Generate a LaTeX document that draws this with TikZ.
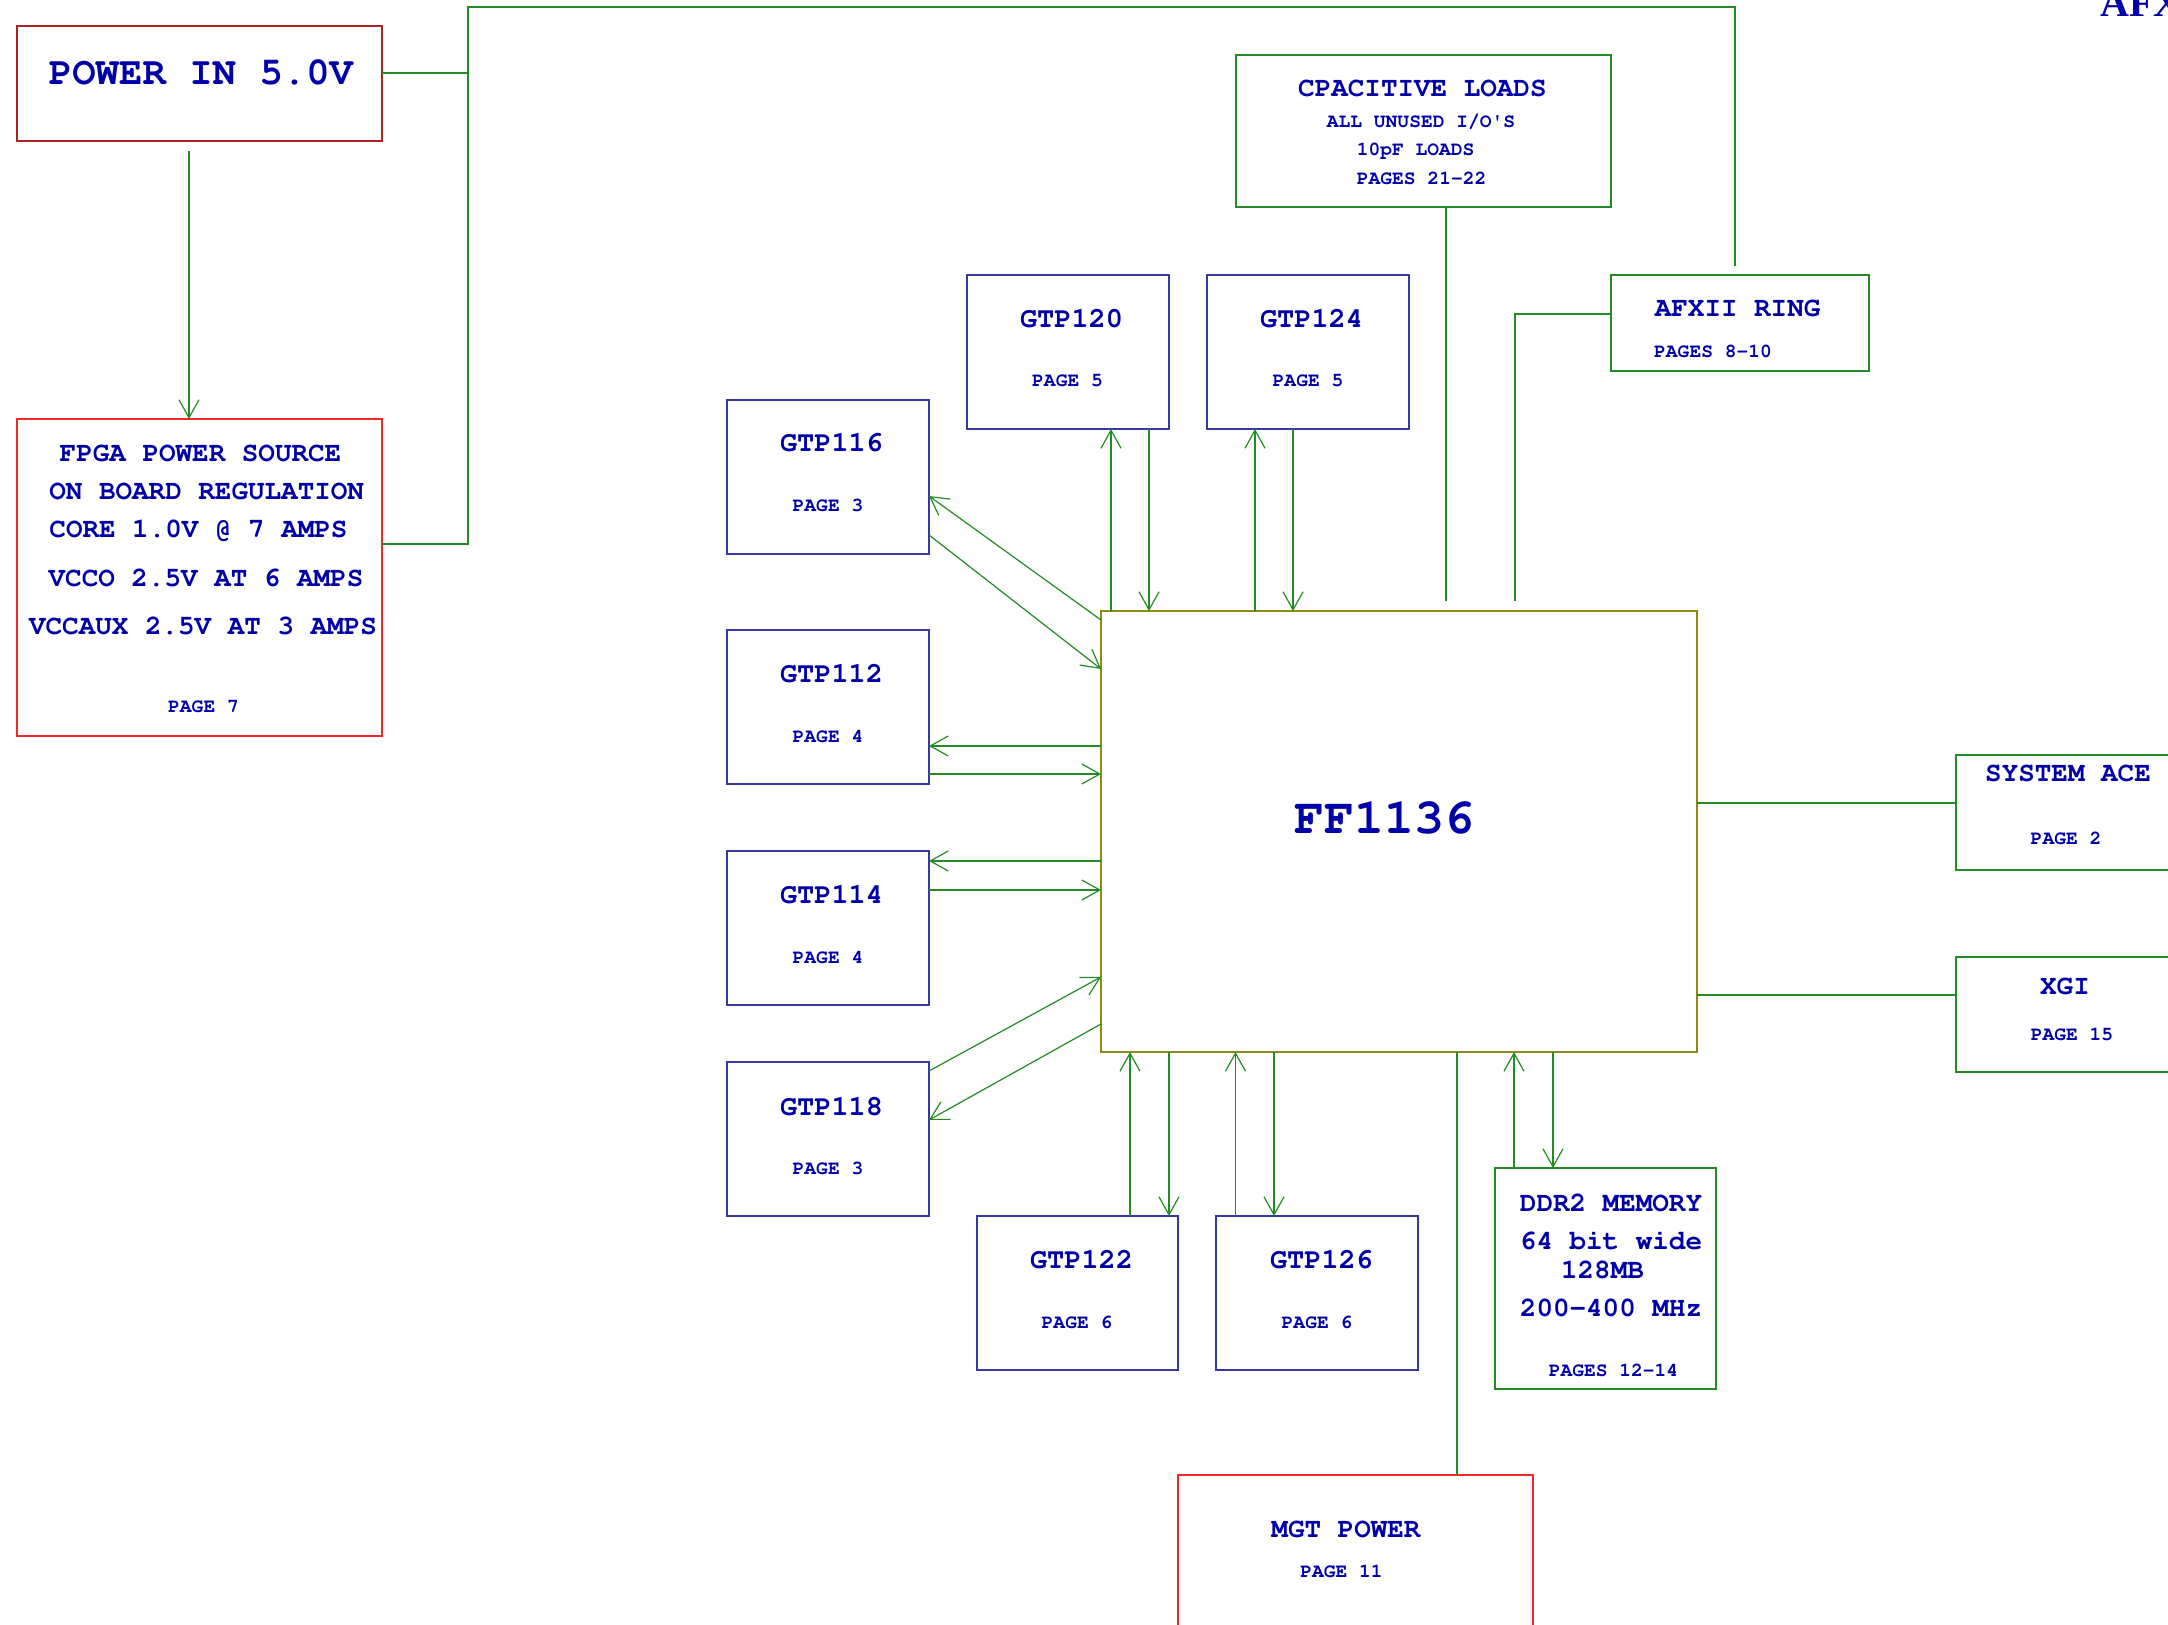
\documentclass[tikz,border=0pt]{standalone}
\usepackage[T1]{fontenc}
\usepackage{fontspec}
\newfontfamily\tnr{Liberation Serif}
\newcommand\cour{\fontencoding{T1}\fontfamily{pcr}\bfseries\selectfont}
\usetikzlibrary{arrows.meta,calc}
\definecolor{tblue}{RGB}{0,0,168}
\definecolor{gtpb}{RGB}{55,55,165}
\definecolor{lgreen}{RGB}{34,140,34}
\definecolor{olivef}{RGB}{140,140,20}
\definecolor{lred}{RGB}{240,40,40}
\definecolor{dred}{RGB}{175,35,35}
\tikzset{
  box/.style={draw, line width=0.7pt, rectangle, inner sep=0pt, outer sep=0pt, anchor=north west},
  gtpbox/.style={box, draw=gtpb},
  grnbox/.style={box, draw=lgreen},
  redbox/.style={box, draw=lred},
  dredbox/.style={box, draw=dred},
  ffbox/.style={box, draw=olivef},
  conn/.style={draw=lgreen, line width=0.6pt},
  arr/.style={conn, -{Straight Barb[length=9pt,width=10pt,line width=0.6pt]}},
  lbl/.style={text=tblue, inner sep=0pt, anchor=base},
  big/.style={lbl, font=\cour\fontsize{19.5}{20}\selectfont},
  ttl/.style={lbl, font=\cour\fontsize{13.8}{14}\selectfont},
  gttl/.style={lbl, font=\cour\fontsize{14.3}{15}\selectfont},
  sml/.style={lbl, font=\cour\fontsize{9.8}{10}\selectfont},
  huge/.style={lbl, font=\cour\fontsize{25}{26}\selectfont},
}
\newcommand\mybox[6]{\node[#6, minimum width={(#4-#2)*0.5pt}, minimum height={(#5-#3)*0.5pt}] (#1) at (#2,#3) {};}
\begin{document}
\begin{tikzpicture}[x=0.5pt,y=-0.5pt]
\useasboundingbox (0,0) rectangle (2168,1625);
\clip (0,0) rectangle (2168,1625);
\fill[white] (0,0) rectangle (2168,1625);

% boxes
\mybox{pin}{17}{26}{382}{141}{dredbox}
\mybox{fpga}{17}{419}{382}{736}{redbox}
\mybox{cap}{1236}{55}{1611}{207}{grnbox}
\mybox{afx}{1611}{275}{1869}{371}{grnbox}
\mybox{g120}{967}{275}{1169}{429}{gtpbox}
\mybox{g124}{1207}{275}{1409}{429}{gtpbox}
\mybox{g116}{727}{400}{929}{554}{gtpbox}
\mybox{g112}{727}{630}{929}{784}{gtpbox}
\mybox{g114}{727}{851}{929}{1005}{gtpbox}
\mybox{g118}{727}{1062}{929}{1216}{gtpbox}
\mybox{g122}{977}{1216}{1178}{1370}{gtpbox}
\mybox{g126}{1216}{1216}{1418}{1370}{gtpbox}
\mybox{ff}{1101}{611}{1697}{1052}{ffbox}
\mybox{sys}{1956}{755}{2220}{870}{grnbox}
\mybox{xgi}{1956}{957}{2220}{1072}{grnbox}
\mybox{ddr}{1495}{1168}{1716}{1389}{grnbox}
\mybox{mgt}{1178}{1475}{1533}{1700}{redbox}

% texts
\node[big] (tpin) at (201,85) {POWER IN 5.0V};
\node[ttl] (tf1) at (200.5,462) {FPGA POWER SOURCE};
\node[ttl] (tf2) at (206.7,500) {ON BOARD REGULATION};
\node[ttl] (tf3) at (198.5,538) {CORE 1.0V @ 7 AMPS};
\node[ttl] (tf4) at (206,587) {VCCO 2.5V AT 6 AMPS};
\node[ttl] (tf5) at (203,635) {VCCAUX 2.5V AT 3 AMPS};
\node[sml] (tf6) at (203.5,713) {PAGE 7};

\node[ttl] (tc1) at (1422.4,97) {CPACITIVE LOADS};
\node[sml] (tc2) at (1421,128) {ALL UNUSED I/O\textquotesingle S};
\node[sml] (tc3) at (1415.6,156) {10pF LOADS};
\node[sml] (tc4) at (1421.6,185) {PAGES 21-22};

\node[ttl] (ta1) at (1737.6,317) {AFXII RING};
\node[sml] (ta2) at (1713,358) {PAGES 8-10};

\node[gttl] (t120) at (1071.5,328) {GTP120};
\node[sml] (p120) at (1067.5,387) {PAGE 5};
\node[gttl] (t124) at (1311.5,328) {GTP124};
\node[sml] (p124) at (1308,387) {PAGE 5};
\node[gttl] (t116) at (831.5,452) {GTP116};
\node[sml] (p116) at (828,512) {PAGE 3};
\node[gttl] (t112) at (831.5,683) {GTP112};
\node[sml] (p112) at (828,743) {PAGE 4};
\node[gttl] (t114) at (831.5,903) {GTP114};
\node[sml] (p114) at (828,963) {PAGE 4};
\node[gttl] (t118) at (831.5,1115) {GTP118};
\node[sml] (p118) at (828,1174) {PAGE 3};
\node[gttl] (t122) at (1081.5,1268) {GTP122};
\node[sml] (p122) at (1077,1328) {PAGE 6};
\node[gttl] (t126) at (1321.5,1268) {GTP126};
\node[sml] (p126) at (1317,1328) {PAGE 6};

\node[huge] (tff) at (1384,834) {FF1136};

\node[ttl] (ts1) at (2068,782) {SYSTEM ACE};
\node[sml] (ts2) at (2066,844) {PAGE 2};
\node[ttl] (tx1) at (2065,994) {XGI};
\node[sml] (tx2) at (2072,1040) {PAGE 15};

\node[ttl] (td1) at (1611,1211) {DDR2 MEMORY};
\node[ttl] (td2) at (1611,1249) {64 bit wide};
\node[ttl] (td3) at (1602.5,1278) {128MB};
\node[ttl] (td4) at (1611,1316) {200-400 MHz};
\node[sml] (td5) at (1613.5,1376) {PAGES 12-14};

\node[ttl] (tm1) at (1346,1537) {MGT POWER};
\node[sml] (tm2) at (1341.5,1577) {PAGE 11};

\node[text=tblue, inner sep=0pt, anchor=base west, font=\tnr\bfseries\fontsize{20}{20}\selectfont] (tafx) at (2100,17) {AFX};

% connectors
\coordinate (pstart) at (189,151);
\draw[arr] (pstart) -- ($(fpga.north west)+(172,0)$);
\coordinate (jp) at (468,73);
\draw[conn] ($(pin.north east)+(0,47)$) -- (jp);
\coordinate (jt) at (468,7);
\coordinate (jr) at (1735,266);
\draw[conn] ($(fpga.north east)+(0,125)$) -| (jt) -| (jr);
\coordinate (capend) at (1446,601);
\draw[conn] ($(cap.south west)+(210,0)$) -- (capend);
\coordinate (afxend) at (1515,601);
\draw[conn] ($(afx.north west)+(0,39)$) -| (afxend);

\draw[arr] ($(ff.north west)+(10,0)$) -- ($(g120.south west)+(144,0)$);
\draw[arr] ($(g120.south west)+(182,0)$) -- ($(ff.north west)+(48,0)$);
\draw[arr] ($(ff.north west)+(154,0)$) -- ($(g124.south west)+(48,0)$);
\draw[arr] ($(g124.south west)+(86,0)$) -- ($(ff.north west)+(192,0)$);

\draw[arr] ($(ff.north west)+(0,9)$) -- ($(g116.north east)+(0,96)$);
\draw[arr] ($(g116.north east)+(0,135)$) -- ($(ff.north west)+(0,58)$);
\draw[arr] ($(ff.north west)+(0,135)$) -- ($(g112.north east)+(0,116)$);
\draw[arr] ($(g112.north east)+(0,144)$) -- ($(ff.north west)+(0,163)$);
\draw[arr] ($(ff.north west)+(0,250)$) -- ($(g114.north east)+(0,10)$);
\draw[arr] ($(g114.north east)+(0,39)$) -- ($(ff.north west)+(0,279)$);
\draw[arr] ($(g118.north east)+(0,9)$) -- ($(ff.north west)+(0,366)$);
\draw[arr] ($(ff.north west)+(0,413)$) -- ($(g118.north east)+(0,58)$);

\draw[arr] ($(g122.north west)+(153,0)$) -- ($(ff.south west)+(29,0)$);
\draw[arr] ($(ff.south west)+(68,0)$) -- ($(g122.north west)+(192,0)$);
\draw[arr] ($(g126.north west)+(19.5,0)$) -- ($(ff.south west)+(134.5,0)$);
\draw[arr] ($(ff.south west)+(173,0)$) -- ($(g126.north west)+(58,0)$);
\draw[arr] ($(ddr.north west)+(19,0)$) -- ($(ff.south west)+(413,0)$);
\draw[arr] ($(ff.south west)+(452,0)$) -- ($(ddr.north west)+(58,0)$);
\draw[conn] ($(ff.south west)+(356,0)$) -- ($(mgt.north west)+(279,0)$);
\draw[conn] ($(ff.north east)+(0,192)$) -- ($(sys.north west)+(0,48)$);
\draw[conn] ($(ff.north east)+(0,384)$) -- ($(xgi.north west)+(0,38)$);
\end{tikzpicture}
\end{document}
